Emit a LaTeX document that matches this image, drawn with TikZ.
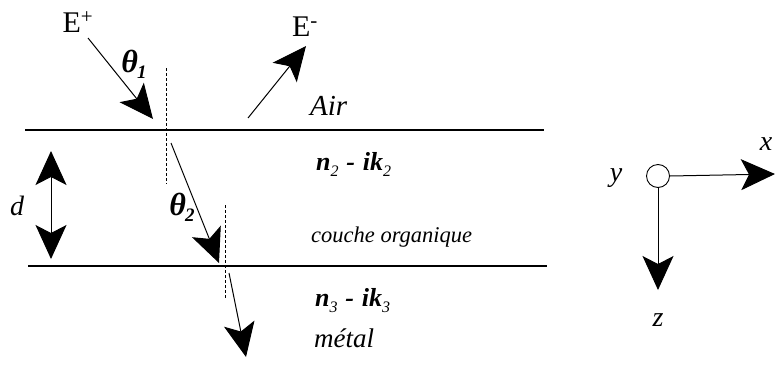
\documentclass[tikz,border=0pt]{standalone}
\usepackage{fontspec}
\setmainfont{Liberation Serif}
\usetikzlibrary{arrows.meta}
\begin{document}
\begin{tikzpicture}[x=1pt,y=-1pt,
  lbl/.style={font=\fontsize{22.5}{24}\selectfont\itshape, inner sep=0pt},
  big/.style={font=\fontsize{27}{29}\selectfont\itshape, inner sep=0pt},
  axl/.style={font=\fontsize{28}{30}\selectfont\itshape, inner sep=0pt},
  ang/.style={font=\fontsize{32}{34}\selectfont\bfseries\itshape, inner sep=0pt},
  idx/.style={font=\fontsize{26}{28}\selectfont\bfseries\itshape, inner sep=0pt},
  field/.style={font=\fontsize{30}{32}\selectfont, inner sep=0pt},
  layer/.style={line width=1.2pt},
  normal/.style={line width=0.8pt, dash pattern=on 3pt off 2pt},
  ray/.style={line width=1pt, -{Stealth[length=34pt,width=31pt,inset=8pt]}},
  dim/.style={line width=1pt, {Stealth[length=34pt,width=31pt,inset=8pt]}-{Stealth[length=34pt,width=31pt,inset=8pt]}}]
\useasboundingbox (0,0) rectangle (775,364);
% interfaces
\coordinate (l1a) at (25,130); \coordinate (l1b) at (544,130);
\coordinate (l2a) at (28,266); \coordinate (l2b) at (547,266);
\draw[layer] (l1a) -- (l1b);
\draw[layer] (l2a) -- (l2b);
% normals
\coordinate (n1a) at (166,68); \coordinate (n1b) at (166,184);
\coordinate (n2a) at (225,205); \coordinate (n2b) at (225,298);
\draw[normal] (n1a) -- (n1b);
\draw[normal] (n2a) -- (n2b);
% rays
\coordinate (i0) at (88,38); \coordinate (i1) at (153,119);
\coordinate (r0) at (248,118); \coordinate (r1) at (306,46);
\coordinate (t0) at (171,143); \coordinate (t1) at (219,263);
\coordinate (m0) at (229,273); \coordinate (m1) at (246,357);
\draw[ray] (i0) -- (i1);
\draw[ray] (r0) -- (r1);
\draw[ray] (t0) -- (t1);
\draw[ray] (m0) -- (m1);
% thickness
\coordinate (d0) at (51,151); \coordinate (d1) at (51,259);
\draw[dim] (d0) -- (d1);
\node[axl] (dl) at (17,206) {d};
% labels
\node[field] (Ep) at (78,22) {E\textsuperscript{+}};
\node[field] (Em) at (305,27) {E\textsuperscript{-}};
\node[ang] (th1) at (134,64) {θ\kern-1pt\raisebox{-6pt}{\fontsize{19}{20}\selectfont 1}};
\node[ang] (th2) at (182,207) {θ\kern-1pt\raisebox{-6pt}{\fontsize{19}{20}\selectfont 2}};
\node[big, font=\fontsize{29}{31}\selectfont\itshape, anchor=west] (air) at (310,106) {Air};
\node[idx, anchor=west] (n2) at (316,164) {n\raisebox{-6pt}{\fontsize{16}{17}\selectfont\mdseries 2}\hspace{0.3em}-\hspace{0.3em}ik\raisebox{-6pt}{\fontsize{16}{17}\selectfont\mdseries 2}};
\node[lbl, anchor=west] (couche) at (311,237) {couche organique};
\node[idx, anchor=west] (n3) at (315,301) {n\raisebox{-6pt}{\fontsize{16}{17}\selectfont\mdseries 3}\hspace{0.3em}-\hspace{0.3em}ik\raisebox{-6pt}{\fontsize{16}{17}\selectfont\mdseries 3}};
\node[big, anchor=west] (metal) at (314,338) {métal};
% axes
\node[draw, circle, line width=0.9pt, minimum size=23pt, inner sep=0pt] (o) at (658,176) {};
\coordinate (xe) at (775,174);
\coordinate (ze) at (658,290);
\draw[ray] (o.east) -- (xe);
\draw[ray] (o.south) -- (ze);
\node[axl] (xl) at (766,144) {x};
\node[axl] (yl) at (616,178) {y};
\node[axl] (zl) at (658,320) {z};
\end{tikzpicture}
\end{document}
